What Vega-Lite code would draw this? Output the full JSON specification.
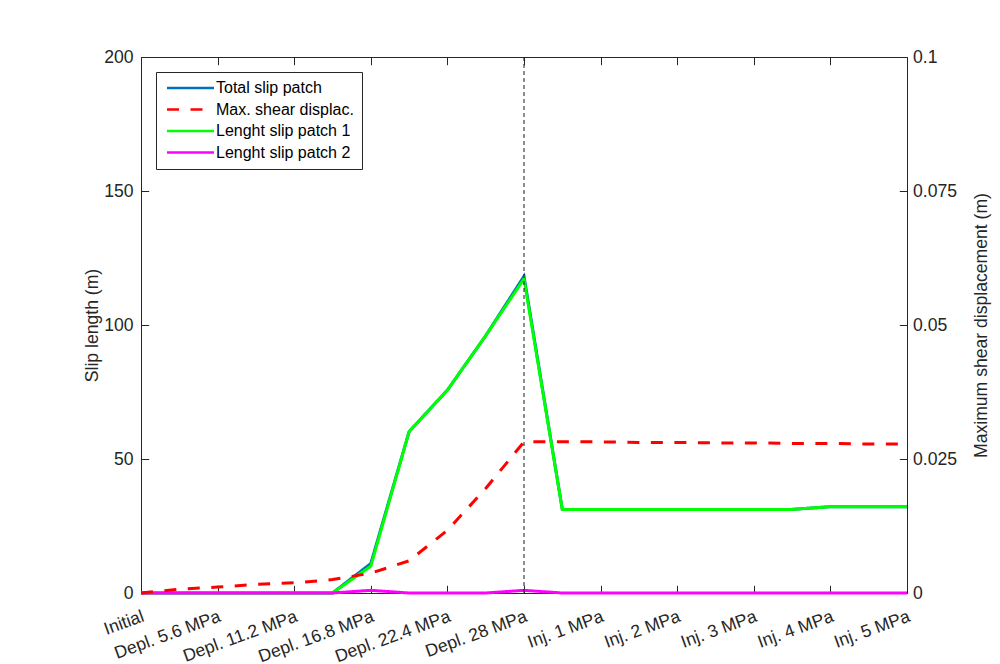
{
  "$schema": "https://vega.github.io/schema/vega-lite/v6.json",
  "width": 766,
  "height": 536,
  "autosize": {"type": "none"},
  "padding": {"left": 141, "top": 57, "right": 93, "bottom": 71},
  "background": "white",
  "config": {
    "font": "Liberation Sans",
    "view": {"stroke": null},
    "axis": {
      "grid": false,
      "ticks": true,
      "tickSize": -7.7,
      "tickColor": "#262626",
      "tickWidth": 1,
      "domainColor": "#262626",
      "domainWidth": 1,
      "labelColor": "#262626",
      "titleColor": "#262626",
      "labelFont": "Liberation Sans",
      "titleFont": "Liberation Sans",
      "labelFontSize": 17.6,
      "titleFontSize": 17.6,
      "titleFontWeight": "normal",
      "labelFlush": false,
      "labelOverlap": false,
      "labelBound": false
    },
    "legend": {
      "title": null,
      "orient": "top-left",
      "offset": 15,
      "symbolType": "M-1,0H8.4",
      "symbolSize": 100,
      "symbolStrokeWidth": 2.5,
      "symbolFillColor": "transparent",
      "labelFont": "Liberation Sans",
      "labelFontSize": 16,
      "labelColor": "#000000",
      "labelOffset": 36,
      "labelLimit": 300,
      "rowPadding": 5.5,
      "padding": 8,
      "strokeColor": "#262626",
      "fillColor": "white"
    }
  },
  "data": {
    "values": [
      {"stage": 0, "series": "Total slip patch", "value": 0},
      {"stage": 0.5, "series": "Total slip patch", "value": 0},
      {"stage": 1, "series": "Total slip patch", "value": 0},
      {"stage": 1.5, "series": "Total slip patch", "value": 0},
      {"stage": 2, "series": "Total slip patch", "value": 0},
      {"stage": 2.5, "series": "Total slip patch", "value": 0},
      {"stage": 3, "series": "Total slip patch", "value": 11},
      {"stage": 3.5, "series": "Total slip patch", "value": 60.2},
      {"stage": 4, "series": "Total slip patch", "value": 75.7},
      {"stage": 4.5, "series": "Total slip patch", "value": 96},
      {"stage": 5, "series": "Total slip patch", "value": 118.2},
      {"stage": 5.5, "series": "Total slip patch", "value": 31.2},
      {"stage": 6, "series": "Total slip patch", "value": 31.2},
      {"stage": 6.5, "series": "Total slip patch", "value": 31.2},
      {"stage": 7, "series": "Total slip patch", "value": 31.2},
      {"stage": 7.5, "series": "Total slip patch", "value": 31.2},
      {"stage": 8, "series": "Total slip patch", "value": 31.2},
      {"stage": 8.5, "series": "Total slip patch", "value": 31.2},
      {"stage": 9, "series": "Total slip patch", "value": 32.2},
      {"stage": 9.5, "series": "Total slip patch", "value": 32.2},
      {"stage": 10, "series": "Total slip patch", "value": 32.2},

      {"stage": 0, "series": "Lenght slip patch 1", "value": 0},
      {"stage": 0.5, "series": "Lenght slip patch 1", "value": 0},
      {"stage": 1, "series": "Lenght slip patch 1", "value": 0},
      {"stage": 1.5, "series": "Lenght slip patch 1", "value": 0},
      {"stage": 2, "series": "Lenght slip patch 1", "value": 0},
      {"stage": 2.5, "series": "Lenght slip patch 1", "value": 0},
      {"stage": 3, "series": "Lenght slip patch 1", "value": 10},
      {"stage": 3.5, "series": "Lenght slip patch 1", "value": 60.2},
      {"stage": 4, "series": "Lenght slip patch 1", "value": 75.7},
      {"stage": 4.5, "series": "Lenght slip patch 1", "value": 96},
      {"stage": 5, "series": "Lenght slip patch 1", "value": 117.2},
      {"stage": 5.5, "series": "Lenght slip patch 1", "value": 31.2},
      {"stage": 6, "series": "Lenght slip patch 1", "value": 31.2},
      {"stage": 6.5, "series": "Lenght slip patch 1", "value": 31.2},
      {"stage": 7, "series": "Lenght slip patch 1", "value": 31.2},
      {"stage": 7.5, "series": "Lenght slip patch 1", "value": 31.2},
      {"stage": 8, "series": "Lenght slip patch 1", "value": 31.2},
      {"stage": 8.5, "series": "Lenght slip patch 1", "value": 31.2},
      {"stage": 9, "series": "Lenght slip patch 1", "value": 32.2},
      {"stage": 9.5, "series": "Lenght slip patch 1", "value": 32.2},
      {"stage": 10, "series": "Lenght slip patch 1", "value": 32.2},

      {"stage": 0, "series": "Lenght slip patch 2", "value": 0},
      {"stage": 0.5, "series": "Lenght slip patch 2", "value": 0},
      {"stage": 1, "series": "Lenght slip patch 2", "value": 0},
      {"stage": 1.5, "series": "Lenght slip patch 2", "value": 0},
      {"stage": 2, "series": "Lenght slip patch 2", "value": 0},
      {"stage": 2.5, "series": "Lenght slip patch 2", "value": 0},
      {"stage": 3, "series": "Lenght slip patch 2", "value": 1},
      {"stage": 3.5, "series": "Lenght slip patch 2", "value": 0},
      {"stage": 4, "series": "Lenght slip patch 2", "value": 0},
      {"stage": 4.5, "series": "Lenght slip patch 2", "value": 0},
      {"stage": 5, "series": "Lenght slip patch 2", "value": 1},
      {"stage": 5.5, "series": "Lenght slip patch 2", "value": 0},
      {"stage": 6, "series": "Lenght slip patch 2", "value": 0},
      {"stage": 6.5, "series": "Lenght slip patch 2", "value": 0},
      {"stage": 7, "series": "Lenght slip patch 2", "value": 0},
      {"stage": 7.5, "series": "Lenght slip patch 2", "value": 0},
      {"stage": 8, "series": "Lenght slip patch 2", "value": 0},
      {"stage": 8.5, "series": "Lenght slip patch 2", "value": 0},
      {"stage": 9, "series": "Lenght slip patch 2", "value": 0},
      {"stage": 9.5, "series": "Lenght slip patch 2", "value": 0},
      {"stage": 10, "series": "Lenght slip patch 2", "value": 0},

      {"stage": 0, "series": "Max. shear displac.", "value": 0},
      {"stage": 0.5, "series": "Max. shear displac.", "value": 0.0007},
      {"stage": 1, "series": "Max. shear displac.", "value": 0.0011},
      {"stage": 1.5, "series": "Max. shear displac.", "value": 0.0016},
      {"stage": 2, "series": "Max. shear displac.", "value": 0.0019},
      {"stage": 2.5, "series": "Max. shear displac.", "value": 0.0025},
      {"stage": 3, "series": "Max. shear displac.", "value": 0.0037},
      {"stage": 3.5, "series": "Max. shear displac.", "value": 0.006},
      {"stage": 4, "series": "Max. shear displac.", "value": 0.0117},
      {"stage": 4.5, "series": "Max. shear displac.", "value": 0.0195},
      {"stage": 5, "series": "Max. shear displac.", "value": 0.0282},
      {"stage": 5.5, "series": "Max. shear displac.", "value": 0.0282},
      {"stage": 6, "series": "Max. shear displac.", "value": 0.0282},
      {"stage": 6.5, "series": "Max. shear displac.", "value": 0.0281},
      {"stage": 7, "series": "Max. shear displac.", "value": 0.0281},
      {"stage": 7.5, "series": "Max. shear displac.", "value": 0.028},
      {"stage": 8, "series": "Max. shear displac.", "value": 0.028},
      {"stage": 8.5, "series": "Max. shear displac.", "value": 0.0279},
      {"stage": 9, "series": "Max. shear displac.", "value": 0.0279},
      {"stage": 9.5, "series": "Max. shear displac.", "value": 0.0278},
      {"stage": 10, "series": "Max. shear displac.", "value": 0.0278}
    ]
  },
  "layer": [
    {
      "transform": [{"filter": "datum.series === 'Total slip patch'"}],
      "mark": {"type": "line", "strokeWidth": 3},
      "encoding": {
        "x": {
          "field": "stage", "type": "quantitative",
          "scale": {"domain": [0, 10], "nice": false, "zero": false},
          "axis": {
            "orient": "bottom", "title": null,
            "values": [0, 1, 2, 3, 4, 5, 6, 7, 8, 9, 10],
            "labelExpr": "['Initial','Depl. 5.6 MPa','Depl. 11.2 MPa','Depl. 16.8 MPa','Depl. 22.4 MPa','Depl. 28 MPa','Inj. 1 MPa','Inj. 2 MPa','Inj. 3 MPa','Inj. 4 MPa','Inj. 5 MPa'][datum.value]",
            "labelAngle": -20, "labelAlign": "right", "labelBaseline": "middle",
            "labelPadding": 30.4, "labelOffset": 2
          }
        },
        "y": {
          "field": "value", "type": "quantitative",
          "scale": {"domain": [0, 200], "nice": false},
          "axis": {
            "orient": "left", "values": [0, 50, 100, 150, 200],
            "title": "Slip length (m)", "labelPadding": 15.7, "titlePadding": 2
          }
        },
        "color": {
          "field": "series", "type": "nominal",
          "scale": {"domain": ["Total slip patch", "Max. shear displac.", "Lenght slip patch 1", "Lenght slip patch 2"], "range": ["#0072BD", "#FF0000", "#00FF00", "#FF00FF"]}
        },
        "strokeDash": {
          "field": "series", "type": "nominal",
          "scale": {"domain": ["Total slip patch", "Max. shear displac.", "Lenght slip patch 1", "Lenght slip patch 2"], "range": [[1, 0], [12, 11.5], [1, 0], [1, 0]]}
        }
      }
    },
    {
      "transform": [{"filter": "datum.series === 'Lenght slip patch 1'"}],
      "mark": {"type": "line", "strokeWidth": 3},
      "encoding": {
        "x": {"field": "stage", "type": "quantitative", "axis": null},
        "y": {"field": "value", "type": "quantitative", "scale": {"domain": [0, 200], "nice": false}, "axis": null},
        "color": {"field": "series", "type": "nominal"},
        "strokeDash": {"field": "series", "type": "nominal"}
      }
    },
    {
      "transform": [{"filter": "datum.series === 'Lenght slip patch 2'"}],
      "mark": {"type": "line", "strokeWidth": 3},
      "encoding": {
        "x": {"field": "stage", "type": "quantitative", "axis": null},
        "y": {"field": "value", "type": "quantitative", "scale": {"domain": [0, 200], "nice": false}, "axis": null},
        "color": {"field": "series", "type": "nominal"},
        "strokeDash": {"field": "series", "type": "nominal"}
      }
    },
    {
      "transform": [{"filter": "datum.series === 'Max. shear displac.'"}],
      "mark": {"type": "line", "strokeWidth": 3},
      "encoding": {
        "x": {
          "field": "stage", "type": "quantitative",
          "axis": {"orient": "top", "title": null, "labels": false, "values": [0, 1, 2, 3, 4, 5, 6, 7, 8, 9, 10]}
        },
        "y": {
          "field": "value", "type": "quantitative",
          "scale": {"domain": [0, 0.1], "nice": false},
          "axis": {
            "orient": "right", "values": [0, 0.025, 0.05, 0.075, 0.1], "format": ".3~f",
            "title": "Maximum shear displacement (m)", "titleAngle": 270,
            "labelPadding": 13.2, "titlePadding": 34
          }
        },
        "color": {"field": "series", "type": "nominal"},
        "strokeDash": {"field": "series", "type": "nominal"}
      }
    },
    {
      "data": {"values": [{"stage": 5, "event": "Depl. 28 MPa"}]},
      "mark": {"type": "rule", "color": "#1a1a1a", "strokeWidth": 1, "strokeDash": [4, 3]},
      "encoding": {
        "x": {"field": "stage", "type": "quantitative", "axis": null}
      }
    }
  ],
  "resolve": {"scale": {"y": "independent"}, "axis": {"x": "independent", "y": "independent"}}
}
